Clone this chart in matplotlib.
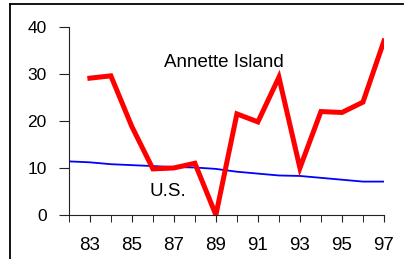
import matplotlib
matplotlib.use("Agg")
import matplotlib.pyplot as plt
from matplotlib.lines import Line2D

plt.rcParams['font.family'] = ['Liberation Sans', 'DejaVu Sans']

years_ai = [83, 84, 85, 86, 87, 88, 89, 90, 91, 92, 93, 94, 95, 96, 97]
annette = [29.1, 29.6, 18.8, 9.8, 10.0, 11.0, 0.0, 21.5, 19.8, 29.3, 10.0, 22.0, 21.8, 24.0, 37.0]
years_us = list(range(82, 98))
us = [11.4, 11.2, 10.8, 10.6, 10.4, 10.2, 10.1, 9.8, 9.2, 8.8, 8.4, 8.3, 7.9, 7.5, 7.1, 7.1]
xlabels = ['83', '85', '87', '89', '91', '93', '95', '97']
yticks = [0, 10, 20, 30, 40]

fig = plt.figure(figsize=(4.05, 2.59), dpi=100)
ax = fig.add_axes([0.170, 0.170, 0.778, 0.726])

ax.plot(years_us, us, color='#0000ff', lw=1.3, zorder=2)
ax.plot(years_ai, annette, color='#ff0000', lw=3.6, solid_joinstyle='miter', zorder=3)

ax.text(89.36, 32.4, 'Annette Island', fontsize=13.5, ha='center', va='center')
ax.text(86.7, 5.0, 'U.S.', fontsize=13.5, ha='center', va='center')

ax.set_xlim(82, 97)
ax.set_ylim(0, 40)
ax.set_xticks(years_us, minor=True)
ax.set_xticks([int(s) for s in xlabels])
ax.set_xticklabels(xlabels)
ax.set_yticks(yticks)
ax.tick_params(axis='both', colors='#222222', labelcolor='black', width=0.8)
ax.tick_params(axis='x', which='both', length=5, pad=11, labelsize=13.5)
ax.tick_params(axis='y', length=7, pad=9, labelsize=12.5)
for s in ['top', 'right']:
    ax.spines[s].set_visible(False)
for s in ['left', 'bottom']:
    ax.spines[s].set_color('#222222')
    ax.spines[s].set_linewidth(0.8)

# outer frame (left and top edges)
fig.add_artist(Line2D([10/405, 10/405], [0, 1 - 4/259], color='black', lw=1.3, transform=fig.transFigure))
fig.add_artist(Line2D([10/405, 403/405], [1 - 4/259, 1 - 4/259], color='black', lw=1.3, transform=fig.transFigure))

fig.savefig('out.png', dpi=100)
